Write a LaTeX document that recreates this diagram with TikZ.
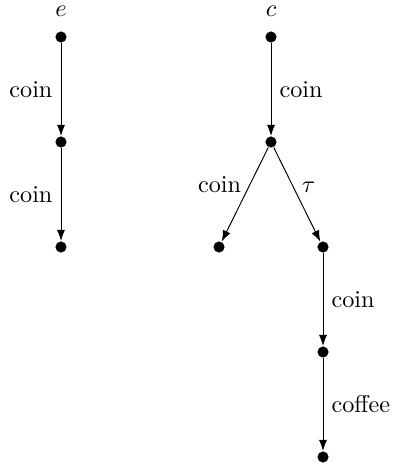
\documentclass[tikz,border=0pt]{standalone}
\usetikzlibrary{arrows.meta}
\begin{document}
\begin{tikzpicture}[x=0.413pt,y=-0.413pt,
  state/.style={circle,fill=black,inner sep=0pt,minimum size=4.6pt},
  trans/.style={draw,line width=0.4pt,-{Latex[length=4.6pt,width=3.4pt]}}]
\useasboundingbox (0,0) rectangle (392,468);
% process e
\node (en) at (61,11) {$e$};
\node[state] (e0) at (61,37) {};
\node[state] (e1) at (61,142) {};
\node[state] (e2) at (61,247) {};
\draw[trans] (e0) -- node[left] {coin} (e1);
\draw[trans] (e1) -- node[left] {coin} (e2);
% process c
\node (cn) at (271,11) {$c$};
\node[state] (c0) at (271,37) {};
\node[state] (c1) at (271,142) {};
\node[state] (c2) at (219,247) {};
\node[state] (c3) at (323,247) {};
\node[state] (c4) at (323,352) {};
\node[state] (c5) at (323,457) {};
\draw[trans] (c0) -- node[right] {coin} (c1);
\draw[trans] (c1) -- node[pos=0.4,left] {coin} (c2);
\draw[trans] (c1) -- node[pos=0.42,right] {$\tau$} (c3);
\draw[trans] (c3) -- node[right] {coin} (c4);
\draw[trans] (c4) -- node[right] {coffee} (c5);
\end{tikzpicture}
\end{document}
